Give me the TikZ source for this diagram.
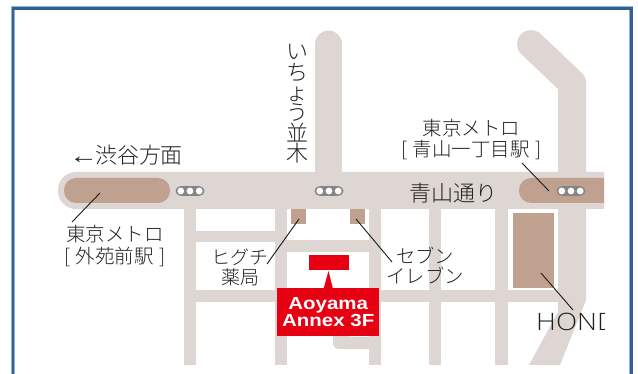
\documentclass[tikz,border=0pt]{standalone}
\usepackage{fontspec}
\setmainfont{Liberation Sans}
\newfontfamily\cjk{Noto Sans CJK JP Light}
\newfontfamily\latinlight{Open Sans Light}
\definecolor{roadc}{HTML}{DDD6D3}
\definecolor{brownc}{HTML}{C0A08F}
\definecolor{redc}{HTML}{E60012}
\definecolor{framedark}{HTML}{365F91}
\definecolor{framelight}{HTML}{95B3D7}
\definecolor{sigc}{HTML}{858585}
\definecolor{inkc}{HTML}{222222}
\tikzset{
  roadfill/.style={fill=roadc,draw=none},
  bldg/.style={fill=brownc,draw=none},
  redfill/.style={fill=redc,draw=none},
  leader/.style={draw=black!90,line width=0.9pt},
  jp/.style={font=\cjk\fontsize{19.5}{21}\selectfont,text=inkc,inner sep=0pt,align=center},
  jpbig/.style={font=\cjk\fontsize{21.5}{24}\selectfont,text=inkc,inner sep=0pt,align=center},
  metrosignal/.pic={
    \fill[sigc,rounded corners=5] (-14.5,-4.8) rectangle (14.5,4.8);
    \foreach \k in {-9.2,0,9.2} \fill[white] (\k,0) circle (3.4);
  }
}
\begin{document}
\begin{tikzpicture}[x=1pt,y=-1pt]
\useasboundingbox (0,0) rectangle (638,374);
\fill[white] (0,0) rectangle (638,374);
% frame
\draw[framelight,line width=4pt] (13,8.5) rectangle (631,400);
\draw[framedark,line width=2.4pt] (12.7,8.5) rectangle (631.5,400);
% roads
\fill[roadfill] (604,172) [rounded corners=18] -- (58,172) -- (58,209) [sharp corners] -- (604,209) -- cycle;
\draw[roadc,line width=27pt,line cap=round] (328.5,44) -- (328.5,180);
\draw[roadc,line width=28pt,line cap=round,line join=round] (531,44) -- (572,83) -- (572,180);
\fill[roadfill] (558,205) -- (586,205) -- (586,300) -- (560,365) -- (529,365) -- (558,312) -- cycle;
\foreach \xa/\xb in {183.5/196,275/287,369/381,429/441,495/508}
  \fill[roadfill] (\xa,205) rectangle (\xb,365);
\fill[roadfill] (196,231) rectangle (275,242);
\fill[roadfill] (287,240) rectangle (369,252);
\fill[roadfill] (183.5,290) rectangle (560,302);
\fill[roadfill] (369,337) [rounded corners=6] -- (345,337) [sharp corners] -- (345,330) -- (333,330) [rounded corners=6] -- (333,349) [sharp corners] -- (369,349) -- cycle;
% stations and buildings
\fill[bldg,rounded corners=12] (64,178) rectangle (170,203);
\fill[bldg] (604,178) [rounded corners=12] -- (519,178) -- (519,203) [sharp corners] -- (604,203) -- cycle;
\node[bldg,minimum width=15pt,minimum height=15pt,inner sep=0pt] (higuchi) at (298.5,216.5) {};
\node[bldg,minimum width=15pt,minimum height=15pt,inner sep=0pt] (seven) at (357,216.5) {};
\node[bldg,minimum width=41pt,minimum height=75pt,inner sep=0pt] (honda) at (533.5,250.5) {};
% signals
\pic at (190,191) {metrosignal};
\pic at (329,191) {metrosignal};
\pic at (571,191) {metrosignal};
% annex
\node[redfill,minimum width=101.5pt,minimum height=48pt,inner sep=0pt,text=white,align=center,
  font=\fontsize{17.5}{17.5}\selectfont\bfseries] (annex) at (328.2,312)
  {\scalebox{1.17}[1]{Aoyama}\\\scalebox{1.17}[1]{Annex 3F}};
\node[redfill,minimum width=40pt,minimum height=15pt,inner sep=0pt] (room) at (329,262.5) {};
\fill[redfill] (328.5,271) -- (333,289) -- (323.5,289) -- cycle;
% labels
\node[jpbig,font=\cjk\fontsize{22}{24}\selectfont] (shibuya) at (126.2,155) {\scalebox{1.3}[1]{\fontspec{Liberation Sans}←}\hspace{-3pt}渋谷方面};
\node[jpbig,font=\cjk\fontsize{22}{20.4}\selectfont,text width=24pt] (icho) at (297,104) {い\\ち\\ょ\\う\\並\\木};
\node[jpbig,font=\cjk\fontsize{22}{24}\selectfont] (aoyamadori) at (453.5,193.5) {青山通り};
\node[jp,font=\cjk\fontsize{19.5}{21.5}\selectfont] (gaien) at (115,246) {東京メトロ\\{[}\hspace{1.5pt} 外苑前駅 \hspace{1.5pt}{]}};
\node[jp,font=\cjk\fontsize{19.5}{21.5}\selectfont] (itchome) at (471.5,139.5) {東京メトロ\\{[}\hspace{1.5pt} 青山一丁目駅 \hspace{1.5pt}{]}};
\node[jp,font=\cjk\fontsize{19}{20}\selectfont] (higuchilabel) at (240,267) {ヒグチ\\薬局};
\node[jp,font=\cjk\fontsize{19.3}{20}\selectfont] (sevenlabel) at (425,266) {セブン\\イレブン};
\begin{scope}
  \clip (500,300) rectangle (604,345);
  \node[anchor=west,inner sep=0pt,text=inkc,font=\latinlight\fontsize{24}{24}\selectfont] (hondalabel) at (536,322) {\scalebox{1.15}[1]{HONDA}};
\end{scope}
% leaders
\coordinate (g1) at (72,222); \coordinate (g2) at (100,193);
\coordinate (h1) at (267,264); \coordinate (h2) at (299,219);
\coordinate (s1) at (356,219); \coordinate (s2) at (392,262);
\coordinate (d1) at (541,273); \coordinate (d2) at (573,310);
\coordinate (i1) at (522,163); \coordinate (i2) at (549,191);
\draw[leader] (g1) -- (g2);
\draw[leader] (h1) -- (h2);
\draw[leader] (s1) -- (s2);
\draw[leader] (d1) -- (d2);
\draw[leader] (i1) -- (i2);
\end{tikzpicture}
\end{document}
